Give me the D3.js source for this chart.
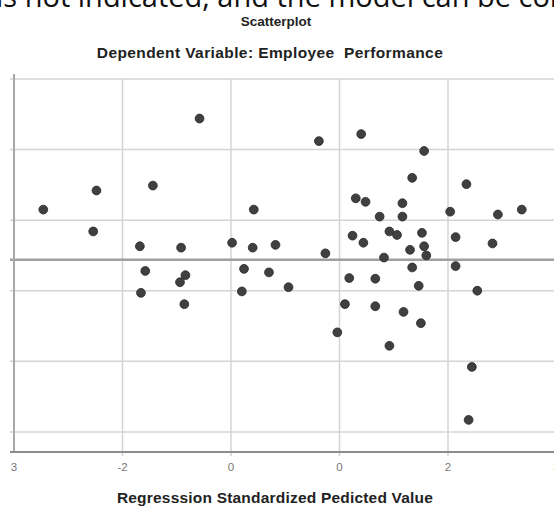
<!DOCTYPE html>
<html>
<head>
<meta charset="utf-8">
<script src="https://cdn.jsdelivr.net/npm/d3@7"></script>
<style>
  html, body { margin: 0; padding: 0; background: #fff; overflow: hidden; }
  svg { display: block; }
</style>
</head>
<body>
<div id="chart"></div>
<script>
var WIDTH = 554;
var HEIGHT = 506;

// x = regression standardized predicted value, y = residual (grid units)
var predicted = [
  -1.29, -2.24, -1.72, -2.73, -0.79, -2.27, -1.84, -1.46, -0.99, -0.80,
  -0.59, -0.19, 0.20, 0.78, 0.67, 1.17, 0.15, 0.24, 0.58, 0.37,
  0.58, 1.02, 1.46, 1.68, 0.46, 0.53, 0.76, 0.12, 0.22, 1.07,
  1.41, -0.13, 0.65, 0.78, 0.80, 0.41, -1.79, -1.42, -1.47, -1.83,
  -0.88, -0.65, -0.90, -1.43, -0.47, 0.09, 0.33, 0.67, 1.07, 0.73,
  1.27, 0.05, 0.33, 0.59, 0.75, -0.02, 0.46, 1.22, 1.19
];
var residual = [
  2.44, 1.42, 1.49, 1.15, 1.15, 0.84, 0.63, 0.61, 0.68, 0.61,
  0.65, 2.12, 2.22, 1.98, 1.60, 1.51, 1.31, 1.26, 1.24, 1.05,
  1.05, 1.12, 1.08, 1.15, 0.84, 0.79, 0.82, 0.78, 0.68, 0.76,
  0.67, 0.53, 0.58, 0.63, 0.50, 0.47, 0.28, 0.22, 0.12, -0.03,
  0.31, 0.26, -0.01, -0.19, 0.05, 0.18, 0.17, 0.33, 0.35, 0.07,
  0.00, -0.19, -0.22, -0.30, -0.46, -0.59, -0.78, -1.08, -1.83
];

var xTicks = [-3, -2, -1, 0, 1, 2];
var xTickLabels = ["3", "-2", "0", "0", "2", "3"];
var yTicks = [3, 2, 1, 0, -1, -2];
var refLine = 0.44;

var titleText = "Scatterplot";
var subtitleText = "Dependent Variable: Employee  Performance";
var xAxisTitle = "Regresssion Standardized Pedicted Value";
var pageText = "is not indicated, and the model can be considered";

var svg = d3.select("#chart")
  .append("svg")
  .attr("width", WIDTH)
  .attr("height", HEIGHT);

var xScale = d3.scaleLinear().domain([-3, 3]).range([14, 665]);
var yScale = d3.scaleLinear().domain([-2.285, 3]).range([452, 79]);

// cut-off line of document text at the very top
svg.append("text")
  .attr("x", -4)
  .attr("y", 7)
  .style("font-family", "'Open Sans', sans-serif")
  .style("font-size", "29px")
  .attr("fill", "#111")
  .text(pageText);

svg.append("text")
  .attr("x", 276)
  .attr("y", 26)
  .attr("text-anchor", "middle")
  .style("font-family", "'Liberation Sans', Arial, sans-serif")
  .style("font-weight", "bold")
  .style("font-size", "13.5px")
  .attr("fill", "#222")
  .text(titleText);

svg.append("text")
  .attr("x", 270)
  .attr("y", 58)
  .attr("text-anchor", "middle")
  .style("font-family", "'Liberation Sans', Arial, sans-serif")
  .style("font-weight", "bold")
  .style("font-size", "15.5px")
  .style("letter-spacing", "0.4px")
  .style("white-space", "pre")
  .attr("fill", "#222")
  .text(subtitleText);

// horizontal grid
svg.selectAll(".hgrid")
  .data(yTicks)
  .join("line")
  .attr("class", "hgrid")
  .attr("x1", 10)
  .attr("x2", WIDTH)
  .attr("y1", d => yScale(d))
  .attr("y2", d => yScale(d))
  .attr("stroke", "#d4d4d4")
  .attr("stroke-width", 1.5);

// vertical grid
svg.selectAll(".vgrid")
  .data(xTicks.filter(d => d > -3))
  .join("line")
  .attr("class", "vgrid")
  .attr("x1", d => xScale(d))
  .attr("x2", d => xScale(d))
  .attr("y1", 79)
  .attr("y2", 456)
  .attr("stroke", "#d4d4d4")
  .attr("stroke-width", 1.5);

// reference line
svg.append("line")
  .attr("x1", 10)
  .attr("x2", WIDTH)
  .attr("y1", yScale(refLine))
  .attr("y2", yScale(refLine))
  .attr("stroke", "#a0a0a0")
  .attr("stroke-width", 2.5);

// axes
svg.append("line")
  .attr("x1", xScale(-3))
  .attr("x2", xScale(-3))
  .attr("y1", 74)
  .attr("y2", 453)
  .attr("stroke", "#a8a8a8")
  .attr("stroke-width", 2);

svg.append("line")
  .attr("x1", 10)
  .attr("x2", WIDTH)
  .attr("y1", 452)
  .attr("y2", 452)
  .attr("stroke", "#8c8c8c")
  .attr("stroke-width", 2);

svg.selectAll(".xlabel")
  .data(xTicks)
  .join("text")
  .attr("class", "xlabel")
  .attr("x", d => xScale(d))
  .attr("y", 471)
  .attr("text-anchor", "middle")
  .style("font-family", "'Liberation Sans', Arial, sans-serif")
  .style("font-size", "11.5px")
  .attr("fill", "#777")
  .text((d, i) => xTickLabels[i]);

svg.append("text")
  .attr("x", 275)
  .attr("y", 503)
  .attr("text-anchor", "middle")
  .style("font-family", "'Liberation Sans', Arial, sans-serif")
  .style("font-weight", "bold")
  .style("font-size", "15.5px")
  .style("letter-spacing", "0.2px")
  .attr("fill", "#222")
  .text(xAxisTitle);

// points
svg.selectAll("circle")
  .data(predicted)
  .join("circle")
  .attr("cx", d => xScale(d))
  .attr("cy", (d, i) => yScale(residual[i]))
  .attr("r", 4.4)
  .attr("fill", "#404040")
  .attr("stroke", "#262626")
  .attr("stroke-width", 0.8);
</script>
</body>
</html>
